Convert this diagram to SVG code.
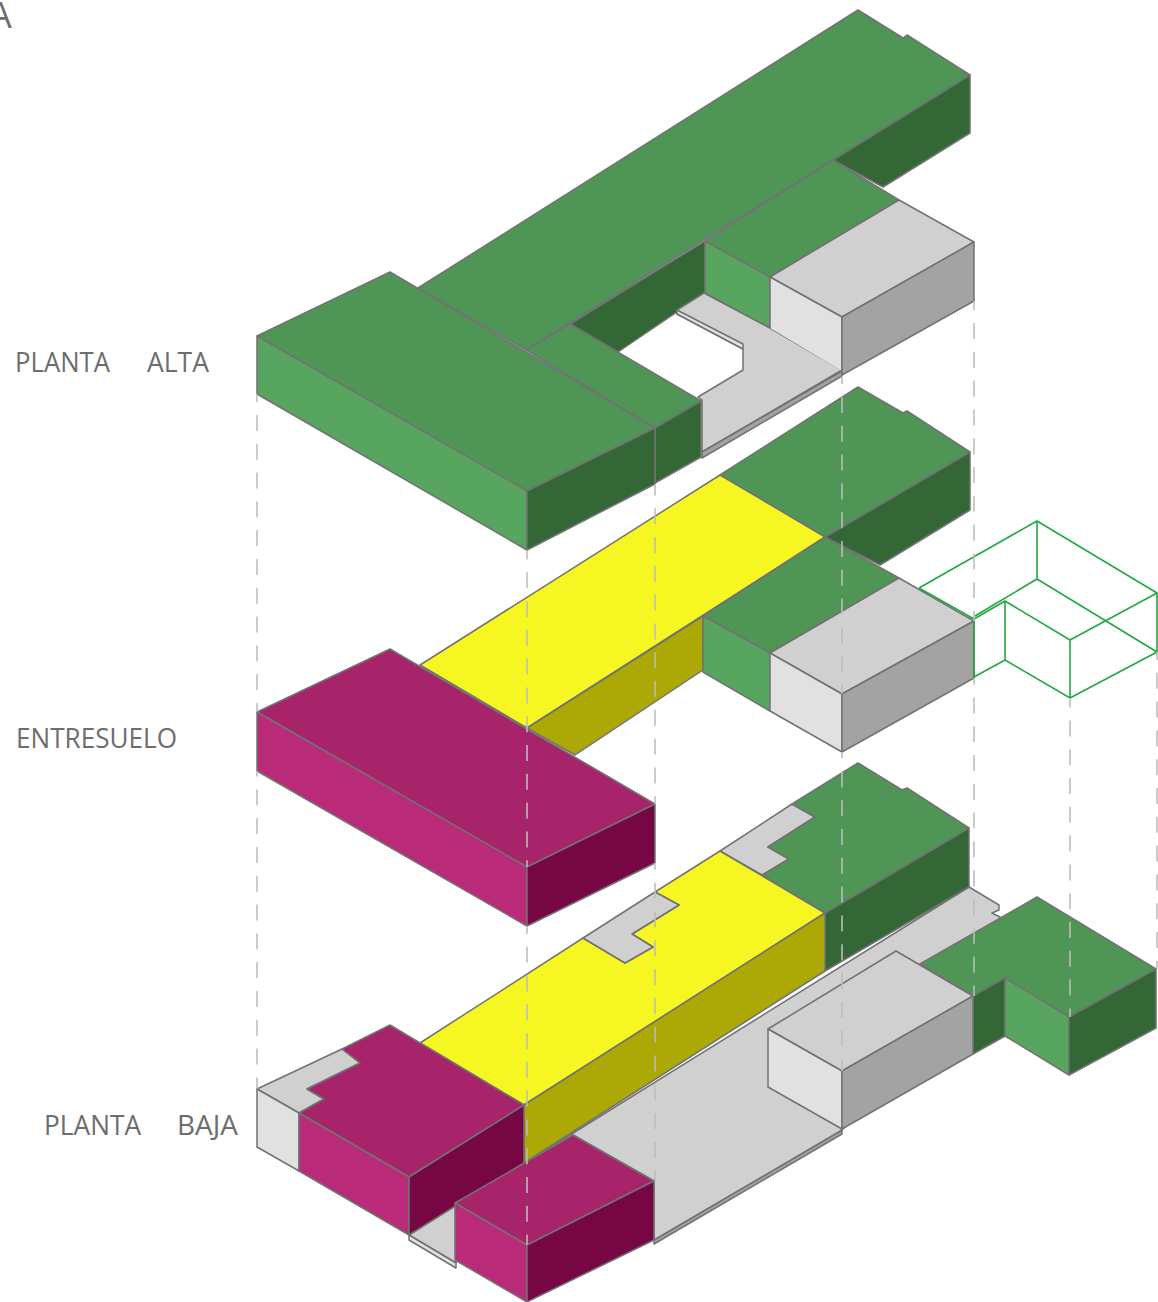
<svg xmlns="http://www.w3.org/2000/svg" width="1158" height="1302" viewBox="0 0 1158 1302">
<style>
polygon{stroke:#727272;stroke-width:1.5;stroke-linejoin:round}
.gt{fill:#4f9656}.gl{fill:#58a55f}.gd{fill:#336836}
.ct{fill:#d0d0d0}.cl{fill:#e1e1e1}.cd{fill:#a3a3a3}
.yt{fill:#f6f722}.yd{fill:#aca806}
.mt{fill:#a8246a}.ml{fill:#b92b78}.md{fill:#770645}
.wire{fill:none;stroke:#22a83f;stroke-width:1.6;stroke-linejoin:round}
.dash{fill:none;stroke:#bdbdbd;stroke-opacity:.92;stroke-width:1.7;stroke-dasharray:16 12.8}
text{font-family:"Open Sans","Noto Sans",sans-serif;fill:#6d6d6d;font-size:28px}
</style>
<rect width="1158" height="1302" fill="#fff"/>
<g id="planta-alta">
<polygon class="gd" points="970,75 970,133 883,187 833,160"/>
<polygon class="gt" points="418,288 858,10 903,38 907,35 970,75 526,350"/>
<polygon class="gd" points="705,241 705,293 618,352 570,324"/>
<polygon class="ct" points="677,310 704,293 770,328 842,370 702,452 702,400 698,397 743,370 743,349 677,314"/>
<polygon class="cl" points="677,310 743,344 743,349 677,314"/>
<polygon class="cd" points="702,452 842,371 842,376 702,458"/>
<polygon class="gl" points="705,241 770,277 770,328 705,293"/>
<polygon class="gt" points="705,241 833,160 899,200 770,277"/>
<polygon class="ct" points="770,277 899,200 974,242 842,317"/>
<polygon class="cl" points="770,277 842,317 842,371 770,328" style="stroke:none"/>
<path d="M770,277 842,317V371M770,277V328" fill="none" stroke="#727272" stroke-width="1.5"/>
<polygon class="cd" points="842,317 974,242 974,301 842,375"/>
<polygon class="gt" points="526,350 570,324 701,401 655,428"/>
<polygon class="gd" points="655,428 701,401 701,457 655,483"/>
<polygon class="gt" points="257,336 390,272 655,428 527,491"/>
<polygon class="gl" points="257,336 527,491 527,550 257,394"/>
<polygon class="gd" points="527,491 655,428 655,484 527,550"/>
</g>
<g id="entresuelo">
<polygon class="gd" points="970,452 970,510 880,565 825,537"/>
<polygon class="gt" points="720,475 858,387 903,413 907,411 970,452 825,537"/>
<polygon class="yt" points="420,665 720,475 825,537 527,728"/>
<polygon class="yd" points="527,728 703,616 703,670 575,755"/>
<polygon class="gt" points="703,616 825,537 899,578 770,653"/>
<polygon class="gl" points="703,616 770,653 770,711 703,672"/>
<polygon class="ct" points="770,653 899,578 974,621 842,694"/>
<polygon class="cl" points="770,653 842,694 842,752 770,711"/>
<polygon class="cd" points="842,694 974,621 974,678 842,752"/>
<polygon class="mt" points="257,712 390,649 655,804 527,867"/>
<polygon class="ml" points="257,712 527,867 527,926 257,771"/>
<polygon class="md" points="527,867 655,804 655,863 527,926"/>
</g>
<g id="volumen-alambre">
<path class="wire" d="M919,588 1037,521 1157,593 1157,652 1070,698 1005,660 974,677 974,619 919,588M1037,521V579M975,616 1037,579 1157,652M974,619 1005,601V660M1005,601 1070,640V698M1070,640 1157,593"/>
</g>
<g id="planta-baja">
<polygon class="cd" points="654,1240 842,1130 842,1134 654,1244"/>
<polygon class="ct" points="969,887 999,905 999,910 992,913 1000,917 973,996 842,1130 654,1240 654,1181 573,1135 525,1163"/>
<polygon class="gd" points="825,913 969,828 969,887 825,971"/>
<polygon class="ct" points="720,851 792,804 815,817 768,847 789,859 762,875"/>
<polygon class="gt" points="792,804 858,763 902,790 907,788 969,828 825,913 762,875 789,859 768,847 815,817"/>
<polygon class="yt" points="420,1043 583,938 625,963 653,947 632,934 679,905 655,892 720,851 825,913 524,1105"/>
<polygon class="ct" points="583,938 655,892 679,905 632,934 653,947 625,963"/>
<polygon class="yd" points="524,1105 825,913 825,971 524,1163"/>
<polygon class="gt" points="920,964 1037,897 1156,969 1069,1017 1005,978 973,996"/>
<polygon class="gd" points="973,996 1005,978 1005,1036 973,1054"/>
<polygon class="gl" points="1005,978 1069,1017 1069,1075 1005,1036"/>
<polygon class="gd" points="1069,1017 1156,969 1156,1028 1069,1075"/>
<polygon class="ct" points="768,1029 896,951 973,996 842,1071"/>
<polygon class="cl" points="768,1029 842,1071 842,1129 768,1087"/>
<polygon class="cd" points="842,1071 973,996 973,1054 842,1129"/>
<polygon class="ct" points="257,1089 342,1049 360,1063 307,1089 324,1099 299,1113"/>
<polygon class="cl" points="257,1089 299,1113 299,1171 257,1147"/>
<polygon class="ct" points="409,1235 456,1205 456,1263"/>
<polygon class="cl" points="409,1235 456,1263 456,1268 409,1240"/>
<polygon class="mt" points="390,1025 524,1105 409,1177 299,1113 324,1099 307,1089 360,1063 342,1049"/>
<polygon class="ml" points="299,1113 409,1177 409,1235 299,1171"/>
<polygon class="md" points="409,1177 524,1105 524,1163 409,1235"/>
<polygon class="mt" points="455,1203 573,1135 654,1181 527,1245"/>
<polygon class="ml" points="455,1203 527,1245 527,1302 455,1260"/>
<polygon class="md" points="527,1245 654,1181 654,1240 527,1302"/>
</g>
<g id="connectors">
<path class="dash" d="M257,394V712" stroke-dashoffset="7.8"/>
<path class="dash" d="M257,771V1089" stroke-dashoffset="10.4"/>
<path class="dash" d="M527,550V867" stroke-dashoffset="6.6"/>
<path class="dash" d="M527,926V1245" stroke-dashoffset="8.2"/>
<path class="dash" d="M655,484V804" stroke-dashoffset="4.6"/>
<path class="dash" d="M655,863V1181" stroke-dashoffset="9.2"/>
<path class="dash" d="M842,376V694" stroke-dashoffset="7.8"/>
<path class="dash" d="M842,752V1071" stroke-dashoffset="9.4"/>
<path class="dash" d="M974,301V621" stroke-dashoffset="6.8"/>
<path class="dash" d="M974,678V996" stroke-dashoffset="9.4"/>
<path class="dash" d="M1070,698V1017" stroke-dashoffset="6.4"/>
<path class="dash" d="M1157,652V969" stroke-dashoffset="8"/>
</g>
<g id="labels">
<text x="-11" y="28" style="font-size:36px">A</text>
<text x="15" y="372" textLength="95" lengthAdjust="spacingAndGlyphs">PLANTA</text>
<text x="147" y="372" textLength="62" lengthAdjust="spacingAndGlyphs">ALTA</text>
<text x="16" y="748" textLength="161" lengthAdjust="spacingAndGlyphs">ENTRESUELO</text>
<text x="44" y="1135" textLength="97" lengthAdjust="spacingAndGlyphs">PLANTA</text>
<text x="177" y="1135" textLength="61" lengthAdjust="spacingAndGlyphs">BAJA</text>
</g>
</svg>
